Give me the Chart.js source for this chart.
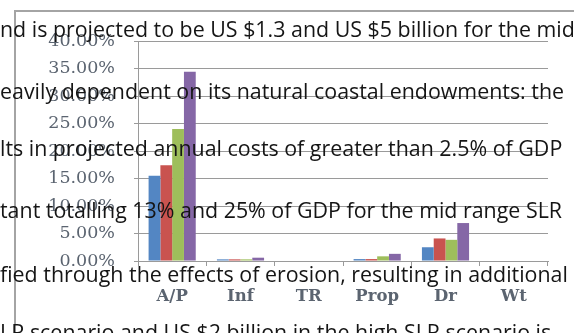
<!DOCTYPE html>
<html>
<head>
<meta charset="utf-8">
<script src="https://cdn.jsdelivr.net/npm/chart.js@4.4.1/dist/chart.umd.min.js"></script>
<style>
  html, body { margin: 0; padding: 0; width: 574px; height: 333px; overflow: hidden; background: #fff; }
  #frame { position: absolute; left: 14px; top: 10px; width: 800px; height: 500px;
           border-left: 2px solid #a4a4a4; border-top: 2px solid #a4a4a4; }
  #wrap { position: absolute; left: 0; top: 0; width: 574px; height: 333px; }
  #prose { position: absolute; left: 0; top: 0; pointer-events: none; }
  #prose text { font-family: "Open Sans", "Noto Sans", sans-serif; font-size: 21.4px; fill: #151515; }
</style>
</head>
<body>
<div id="frame"></div>
<div id="wrap"><canvas id="chart" width="574" height="333"></canvas></div>
<svg id="prose" width="574" height="333" xmlns="http://www.w3.org/2000/svg"></svg>
<script>
// Cost categories along the x axis
const categories = ['A/P', 'Inf', 'TR', 'Prop', 'Dr', 'Wt'];

// Share of GDP (%) for each of the four series
const series1 = [15.5, 0.3, 0, 0.35, 2.5, 0];
const series2 = [17.4, 0.3, 0, 0.35, 4.1, 0];
const series3 = [24.0, 0.3, 0, 0.85, 3.85, 0];
const series4 = [34.4, 0.6, 0, 1.3, 6.9, 0];

const seriesNames = ['Series 1', 'Series 2', 'Series 3', 'Series 4'];
const seriesColors = ['#5386c3', '#c9534f', '#9ebe5b', '#8567a6'];

// Value axis range and tick spacing
const yMin = 0;
const yMax = 40;
const yStep = 5;

// Body text of the page the chart sits in
const proseLines = [
  'nd is projected to be US $1.3 and US $5 billion for the mid',
  'eavily dependent on its natural coastal endowments: the',
  'lts in projected annual costs of greater than 2.5% of GDP',
  'tant totalling 13% and 25% of GDP for the mid range SLR',
  'fied through the effects of erosion, resulting in additional',
  'LR scenario and US $2 billion in the high SLR scenario is'
];
const proseBaselines = [37, 99, 156, 218, 282, 340];

const labelGray = '#5b6470';
const gridGray = '#9a9a9a';
const serifFamily = 'DejaVu Serif';

new Chart(document.getElementById('chart'), {
  type: 'bar',
  data: {
    labels: categories,
    datasets: [series1, series2, series3, series4].map((vals, i) => ({
      label: seriesNames[i],
      data: vals,
      backgroundColor: seriesColors[i],
      borderWidth: 0,
      categoryPercentage: 0.69,
      barPercentage: 1.0
    }))
  },
  options: {
    responsive: false,
    animation: false,
    layout: { padding: { top: 41, right: 26, bottom: 0, left: 0 } },
    plugins: { legend: { display: false }, tooltip: { enabled: false } },
    scales: {
      x: {
        grid: { drawOnChartArea: false, drawTicks: true, tickLength: 5, color: gridGray, lineWidth: 1 },
        border: { display: true, color: gridGray, width: 1 },
        ticks: {
          color: labelGray,
          padding: 21,
          font: { family: serifFamily, size: 16.5, weight: 'bold' },
          maxRotation: 0
        },
        afterFit: (scale) => { scale.height = 72; }
      },
      y: {
        min: yMin,
        max: yMax,
        grid: { color: gridGray, lineWidth: 1, tickLength: 4, drawTicks: true },
        border: { display: true, color: gridGray, width: 1 },
        ticks: {
          stepSize: yStep,
          color: labelGray,
          padding: 19,
          font: { family: serifFamily, size: 17.5 },
          callback: (v) => v.toFixed(2) + '%'
        },
        afterFit: (scale) => { scale.width = 138; }
      }
    }
  }
});

// Overlay the surrounding paragraph text
const svg = document.getElementById('prose');
proseLines.forEach((line, i) => {
  const t = document.createElementNS('http://www.w3.org/2000/svg', 'text');
  t.setAttribute('x', 0);
  t.setAttribute('y', proseBaselines[i]);
  t.textContent = line;
  svg.appendChild(t);
});
</script>
</body>
</html>
